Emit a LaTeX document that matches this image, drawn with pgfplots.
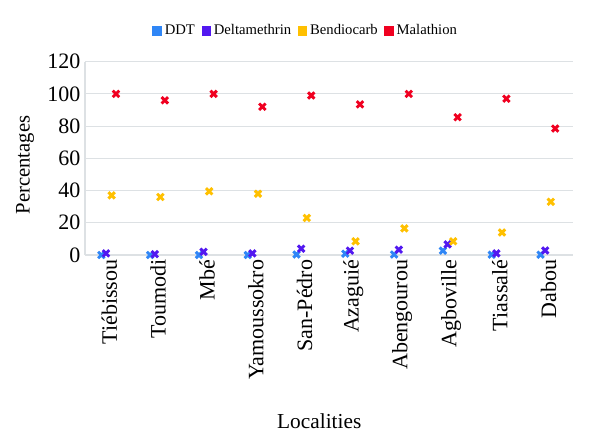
\documentclass[border=0pt]{standalone}
\usepackage{pgfplots}
\pgfplotsset{compat=1.18}
\usepackage{pgfplotstable}
\usepackage{fontspec}
\setmainfont{Liberation Serif}
\definecolor{cddt}{HTML}{2F86F6}
\definecolor{cdelt}{HTML}{5218F0}
\definecolor{cbend}{HTML}{FFC000}
\definecolor{cmal}{HTML}{F00020}
\definecolor{gridc}{HTML}{DDE1E4}
\pgfplotstableread{
x DDT Delt Bend Mal
0 0   1   37   100
1 0   0.5 36   96
2 0   2   39.5 100
3 0   1   38   92
4 0.3 3.9 23   99
5 0.8 2.7 8.5  93.5
6 0.3 3.3 16.5 100
7 2.7 6.6 8.5  85.5
8 0.2 1   14   97
9 0.2 2.8 33   78.5
}\datatable
\begin{document}
\begin{tikzpicture}[font=\rmfamily]
\path[use as bounding box] (0,0) rectangle (445.5pt,331.5pt);
\begin{axis}[
  at={(63.75pt,140.25pt)}, anchor=south west,
  scale only axis, width=366pt, height=145pt,
  xmin=-0.5, xmax=9.5, ymin=0, ymax=120,
  ytick={0,20,...,120},
  xtick={0,...,9},
  xticklabels={Tiébissou,Toumodi,Mbé,Yamoussokro,San-Pédro,Azaguié,Abengourou,Agboville,Tiassalé,Dabou},
  xticklabel style={rotate=90, anchor=east, font=\rmfamily\fontsize{16.5}{18}\selectfont},
  yticklabel style={font=\rmfamily\fontsize{16.5}{18}\selectfont},
  /pgf/number format/assume math mode=true,
  major tick length=0pt,
  ymajorgrids, grid style={gridc, line width=0.8pt},
  axis lines=left, axis line style={-},
  x axis line style={draw=none},
  y axis line style={gridc, line width=0.8pt},
  xlabel={Localities}, ylabel={Percentages},
  xlabel style={at={(axis description cs:0.48,-0.895)}, anchor=base, font=\rmfamily\fontsize{16}{18}\selectfont},
  ylabel style={at={(axis description cs:-0.123,0.466)}, anchor=center, font=\rmfamily\fontsize{15.5}{18}\selectfont},
  legend columns=-1,
  legend style={at={(axis description cs:0.453,1.16)}, anchor=center, draw=none, fill=none,
    font=\rmfamily\fontsize{11}{12}\selectfont, /tikz/every even column/.append style={column sep=3pt}},
  legend image code/.code={\fill[draw=none] (0pt,-3.6pt) rectangle (7.2pt,3.6pt);},
  every axis plot/.append style={only marks, mark=x, mark size=3.4pt, mark options={line width=2.2pt}},
]
\addplot[color=cddt] table[x expr=\thisrow{x}-0.165, y=DDT] {\datatable};
\addplot[color=cdelt] table[x expr=\thisrow{x}-0.07, y=Delt] {\datatable};
\addplot[color=cbend] table[x expr=\thisrow{x}+0.045, y=Bend] {\datatable};
\addplot[color=cmal] table[x expr=\thisrow{x}+0.135, y=Mal] {\datatable};
\legend{DDT,Deltamethrin,Bendiocarb,Malathion}
\end{axis}
\end{tikzpicture}
\end{document}
